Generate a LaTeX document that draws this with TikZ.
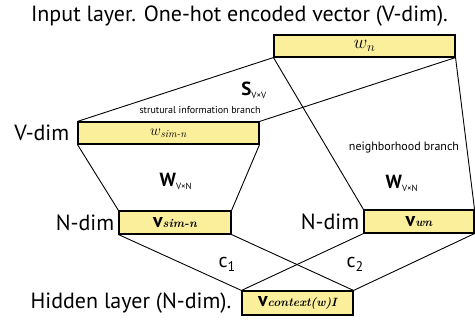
\documentclass[tikz,border=0pt]{standalone}
\usepackage{amsmath}
\usepackage{fix-cm}
\usepackage{fontspec}
\setsansfont{PT Sans}
\renewcommand{\familydefault}{\sfdefault}
\usepackage{tikz}
\usetikzlibrary{positioning}

\definecolor{vecfill}{HTML}{FCEF9C}

\tikzset{
  vecbox/.style={draw, line width=1.1pt, fill=vecfill, inner sep=0pt, minimum height=22pt},
  layer/.style={font=\fontsize{22}{22}\selectfont, inner sep=0pt},
  branch/.style={font=\fontsize{10}{10}\selectfont, inner sep=0pt},
  nbranch/.style={font=\fontsize{12}{12}\selectfont, inner sep=0pt},
  coef/.style={font=\fontsize{20}{20}\selectfont, inner sep=0pt},
  wt/.style={font=\fontsize{19}{19}\selectfont\bfseries, inner sep=0pt}
}

% bold vector with italic serif subscript
\newcommand{\vecsub}[1]{{\fontsize{20}{20}\selectfont\bfseries v}{\fontsize{12}{12}\selectfont\rmfamily\bfseries\itshape #1}}
\newcommand{\dimsub}[1]{\textsubscript{\fontsize{9}{9}\selectfont\mdseries #1}}

\begin{document}
\begin{tikzpicture}[x=1pt,y=-1pt]
  \useasboundingbox (0,0) rectangle (475,321);

  \node[layer] (title) at (239.5,16) {Input layer. One-hot encoded vector (V-dim).};

  % input vectors
  \node[vecbox, minimum width=181pt, font=\fontsize{19}{19}\selectfont] (wn) at (364.5,46) {$w_n$};
  \node[vecbox, minimum width=181pt, font=\fontsize{15}{15}\selectfont] (wsim) at (168.5,133) {$w_{\text{\rmfamily\itshape sim-n}}$};

  % projections
  \node[vecbox, minimum width=112pt, minimum height=23pt] (vsim) at (175,222.5) {\vecsub{sim-n}};
  \node[vecbox, minimum width=110pt, minimum height=23pt] (vwn) at (419,221.5) {\vecsub{wn}};

  % hidden layer
  \node[vecbox, minimum width=111pt, minimum height=24pt] (vctx) at (297.5,303) {\vecsub{context(w)I}};

  \node[layer, left=8pt of wsim] (vdim) {V-dim};
  \node[layer, left=4pt of vsim] (ndim1) {N-dim};
  \node[layer, left=4pt of vwn] (ndim2) {N-dim};
  \node[layer, left=10pt of vctx] (hidden) {Hidden layer (N-dim).};

  %wn>wsim
  \draw[line width=0.9pt] (wn.south west) -- (wsim.north west);
  \draw[line width=0.9pt] (wn.south east) -- (wsim.north east);

  %wn>vwn
  \draw[line width=0.9pt] (wn.south west) -- (vwn.north west);
  \draw[line width=0.9pt] (wn.south east) -- (vwn.north east);

  %wsim>vsim
  \draw[line width=0.9pt] (wsim.south west) -- (vsim.north west);
  \draw[line width=0.9pt] (wsim.south east) -- (vsim.north east);

  %v>vctx
  \draw[line width=0.9pt] (vsim.south west) -- (vctx.north west);
  \draw[line width=0.9pt] (vsim.south east) -- (vctx.north east);
  \draw[line width=0.9pt] (vwn.south west) -- (vctx.north west);
  \draw[line width=0.9pt] (vwn.south east) -- (vctx.north east);

  % weights
  \node[wt] (s) at (254,90) {S\dimsub{V×V}};
  \node[branch] (sbr) at (200,110) {strutural information branch};
  \node[nbranch] (nbr) at (404,148) {neighborhood branch};
  \node[wt] (w1) at (176,181) {W\dimsub{V×N}};
  \node[wt] (w2) at (402,183) {W\dimsub{V×N}};

  \node[coef] (c1) at (227,264) {c{\fontsize{14}{14}\selectfont\raisebox{-4pt}{1}}};
  \node[coef] (c2) at (355,264) {c{\fontsize{14}{14}\selectfont\raisebox{-4pt}{2}}};
\end{tikzpicture}
\end{document}
